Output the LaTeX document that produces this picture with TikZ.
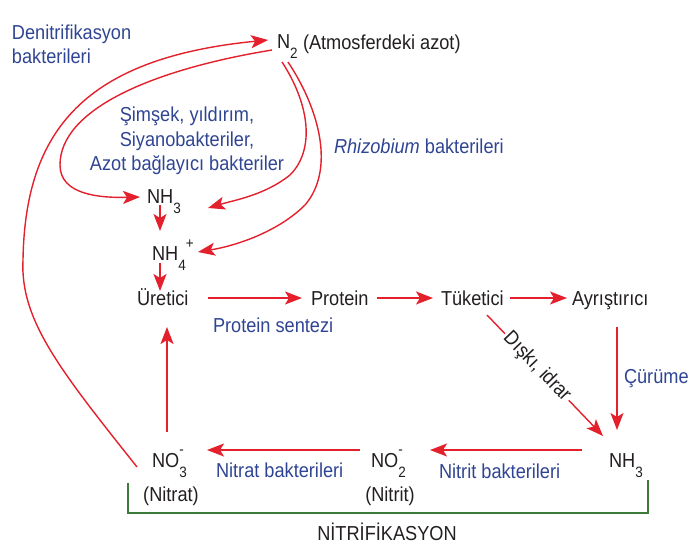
\documentclass[tikz,border=0pt]{standalone}
\usepackage{fontspec}
\setmainfont[FakeStretch=0.9]{Liberation Sans}
\usetikzlibrary{arrows.meta}
\definecolor{arrred}{HTML}{E3202B}
\definecolor{labblue}{HTML}{2F4593}
\definecolor{brgreen}{HTML}{3D7B3A}
\definecolor{txtblack}{HTML}{231F20}
\newcommand\csub[1]{\raisebox{-10pt}{\fontsize{15}{15}\selectfont #1}}
\newcommand\csup[1]{\raisebox{12pt}{\fontsize{15}{15}\selectfont #1}}
\newcommand\cboth[2]{\rlap{\raisebox{13pt}{\fontsize{15}{15}\selectfont #1}}\raisebox{-10pt}{\fontsize{15}{15}\selectfont #2}}
\begin{document}
\begin{tikzpicture}[x=1pt,y=-1pt,
  base/.style={inner sep=0pt,outer sep=0pt,font=\fontsize{20.2}{24}\selectfont},
  item/.style={base,text=txtblack,anchor=base west,text height=14pt,text depth=0pt},
  lab/.style={base,text=labblue},
  arr/.style={draw=arrred,line width=1.4pt,-{Stealth[length=17pt,width=13pt,inset=4pt]}},
  brk/.style={draw=brgreen,line width=2.6pt}]
\useasboundingbox (0,0) rectangle (699,552);

% top texts
\node[lab,anchor=base west] (den1) at (12,39) {Denitrifikasyon};
\node[lab,anchor=base west] (den2) at (12,63) {bakterileri};
\node[item] (n2) at (277,48) {N\csub{2}};
\node[item] (atm) at (303,49) {(Atmosferdeki azot)};
\node[lab,anchor=base] (sim1) at (187,121) {Şimşek, yıldırım,};
\node[lab,anchor=base] (sim2) at (187,146) {Siyanobakteriler,};
\node[lab,anchor=base] (sim3) at (187,170) {Azot bağlayıcı bakteriler};
\node[lab,anchor=base west] (rhiz) at (334,153) {\textit{Rhizobium} bakterileri};

% ammonia
\node[item] (nh3) at (147,203) {NH\csub{3}};
\node[item] (nh4) at (152,260) {NH\csub{4}\csup{+}};

% main row
\node[item] (uretici) at (137,305) {Üretici};
\node[item] (protein) at (311,305) {Protein};
\node[item] (tuketici) at (441,305) {Tüketici};
\node[item] (ayr) at (572,305) {Ayrıştırıcı};
\node[lab,anchor=base west] (psent) at (213,332) {Protein sentezi};
\node[lab,anchor=base west] (curume) at (624,383) {Çürüme};

% bottom row
\node[item] (no3) at (152,467) {NO\cboth{-}{3}};
\node[item] (no2) at (371,467) {NO\cboth{-}{2}};
\node[item] (nh3b) at (609,467) {NH\csub{3}};
\node[base,text=txtblack,anchor=base] (nitrat) at (171,501) {(Nitrat)};
\node[base,text=txtblack,anchor=base] (nitrit) at (390,501) {(Nitrit)};
\node[lab,anchor=base west] (natb) at (216,477) {Nitrat bakterileri};
\node[lab,anchor=base west] (nitb) at (439,478) {Nitrit bakterileri};
\node[base,text=txtblack,anchor=base] (nitrif) at (387,540) {NİTRİFİKASYON};

% green bracket
\draw[brk] (128,483) -- (128,513) -- (648,513) -- (648,480);

% row arrows
\draw[arr,shorten <=19pt,shorten >=9pt] (uretici) -- (protein);
\draw[arr,shorten <=8pt,shorten >=8pt] (protein) -- (tuketici);
\draw[arr,shorten <=6pt,shorten >=5pt] (tuketici) -- (ayr);

% vertical arrows
\draw[arr] ([xshift=13pt,yshift=-2pt]nh3.base west) -- ([xshift=8pt,yshift=15pt]nh4.north west);
\draw[arr] ([xshift=8pt,yshift=-3pt]nh4.base west) -- ([xshift=23pt,yshift=0pt]uretici.north west);
\draw[arr] ([xshift=15pt,yshift=35pt]no3.base west) -- ([xshift=30pt,yshift=-22pt]uretici.base west);
\draw[arr] ([xshift=45pt,yshift=-22pt]ayr.base west) -- ([xshift=8pt,yshift=37pt]nh3b.base west);

% diagonal
\draw[arr] ([xshift=46pt,yshift=-10pt]tuketici.base west) -- node[pos=0.43,sloped,fill=white,inner sep=2pt,text=txtblack,font=\fontsize{20.2}{24}\selectfont] (diski) {Dışkı, idrar} ([xshift=-6pt,yshift=31pt]nh3b.base west);

% bottom arrows
\draw[arr] ([xshift=-27pt,yshift=17pt]nh3b.base west) -- ([xshift=59pt,yshift=17pt]no2.base west);
\draw[arr] ([xshift=-11pt,yshift=17pt]no2.base west) -- ([xshift=55pt,yshift=17pt]no3.base west);

% curves
\draw[arr] ([xshift=-15pt]no3.base west) .. controls (60,370) and (20,320) .. (23,260)
  .. controls (25,130) and (85,58) .. ([xshift=-9pt,yshift=8pt]n2.base west);
\draw[arr] ([xshift=-5pt,yshift=-2pt]n2.base west) .. controls (150,70) and (60,110) .. (60,165)
  .. controls (60,195) and (100,198) .. ([xshift=-7pt,yshift=6pt]nh3.base west);
\draw[arr] ([xshift=5pt,yshift=-14pt]n2.base west) .. controls (310,105) and (315,150) .. (290,175)
  .. controls (265,195) and (235,200) .. ([xshift=61pt,yshift=-5pt]nh3.base west);
\draw[arr] ([xshift=11pt,yshift=-14pt]n2.base west) .. controls (320,110) and (335,170) .. (305,205)
  .. controls (280,230) and (240,245) .. ([xshift=46pt,yshift=8pt]nh4.base west);
\end{tikzpicture}
\end{document}
